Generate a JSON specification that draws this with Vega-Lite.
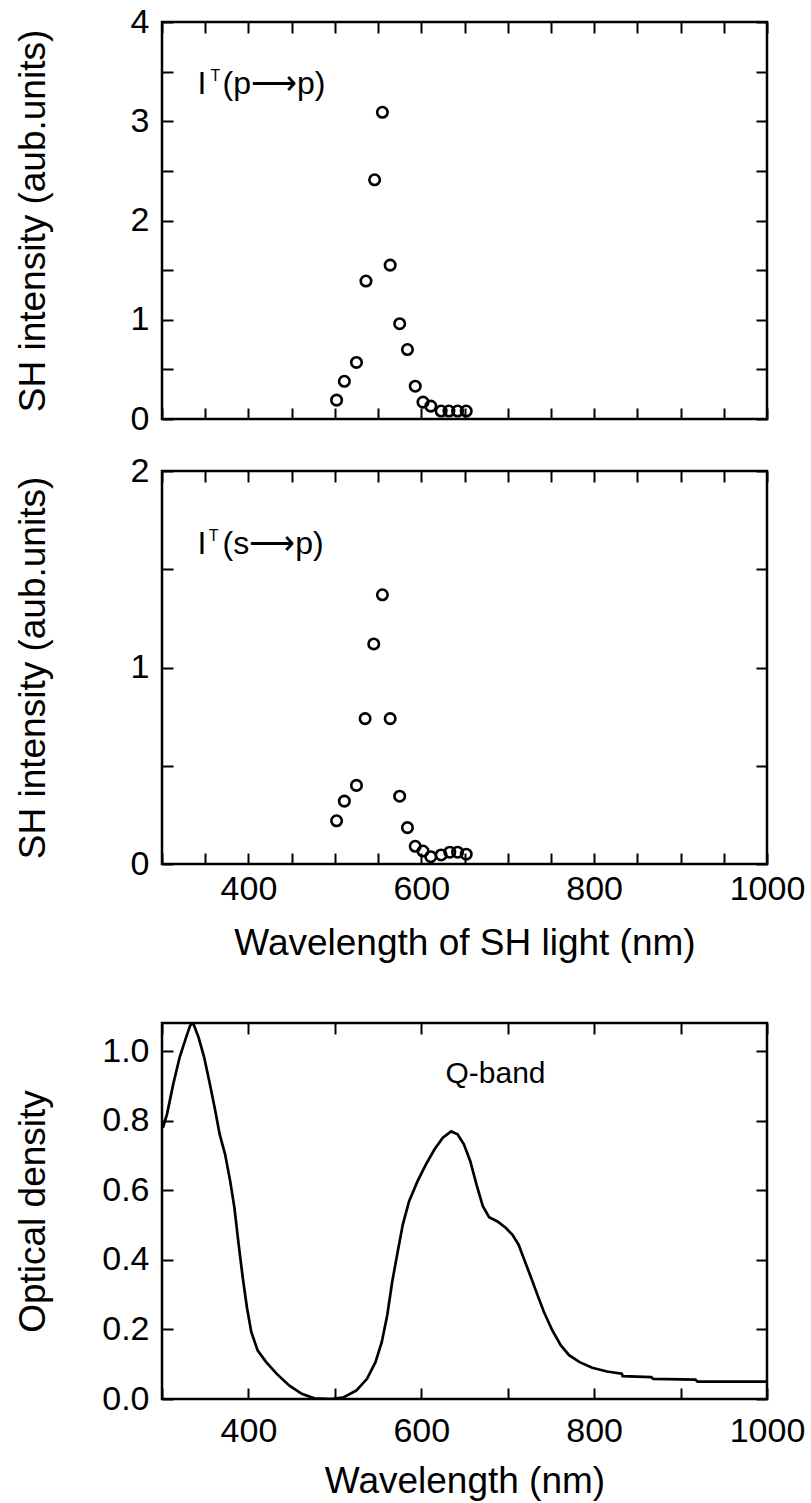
{
  "$schema": "https://vega.github.io/schema/vega-lite/v6.json",
  "padding": {"left": 12, "top": 3, "right": 0, "bottom": 0},
  "background": "white",
  "spacing": 14,
  "config": {
    "view": {"stroke": "black", "strokeWidth": 2.5},
    "font": "Liberation Sans",
    "axis": {
      "grid": false, "domain": false, "tickColor": "black", "tickWidth": 2, "tickSize": -11,
      "labelFont": "Liberation Sans", "labelFontSize": 34, "labelColor": "black", "labelPadding": 24,
      "labelFlush": false, "labelOverlap": false,
      "titleFont": "Liberation Sans", "titleFontSize": 37, "titleFontWeight": "normal", "titleColor": "black"
    }
  },
  "vconcat": [
    {
      "width": 605, "height": 397,
      "data": {"values": [
        {"wavelength": 502, "intensity": 0.19}, {"wavelength": 511, "intensity": 0.38},
        {"wavelength": 525, "intensity": 0.57}, {"wavelength": 536, "intensity": 1.39},
        {"wavelength": 546, "intensity": 2.41}, {"wavelength": 555, "intensity": 3.09},
        {"wavelength": 564, "intensity": 1.55}, {"wavelength": 575, "intensity": 0.96},
        {"wavelength": 584, "intensity": 0.70}, {"wavelength": 593, "intensity": 0.33},
        {"wavelength": 602, "intensity": 0.17}, {"wavelength": 611, "intensity": 0.13},
        {"wavelength": 623, "intensity": 0.08}, {"wavelength": 632, "intensity": 0.08},
        {"wavelength": 642, "intensity": 0.08}, {"wavelength": 652, "intensity": 0.08}
      ]},
      "layer": [
        {
          "mark": {"type": "point", "shape": "circle", "filled": false, "stroke": "black", "strokeWidth": 2.6, "size": 110, "opacity": 1},
          "encoding": {
            "x": {"field": "wavelength", "type": "quantitative", "scale": {"domain": [300, 1000], "nice": false, "zero": false},
                  "axis": {"orient": "bottom", "values": [300,350,400,450,500,550,600,650,700,750,800,850,900,950,1000], "labels": false, "title": null}},
            "y": {"field": "intensity", "type": "quantitative", "scale": {"domain": [0, 4], "nice": false},
                  "axis": {"orient": "left", "values": [0,0.5,1,1.5,2,2.5,3,3.5,4], "labelExpr": "datum.value % 1 == 0 ? format(datum.value, 'd') : ''",
                           "title": "SH intensity (aub.units)", "titleX": -118, "titleBaseline": "alphabetic"}}
          }
        },
        {
          "mark": {"type": "point", "opacity": 0},
          "encoding": {
            "x": {"field": "wavelength", "type": "quantitative",
                  "axis": {"orient": "top", "values": [300,350,400,450,500,550,600,650,700,750,800,850,900,950,1000], "labels": false, "title": null}},
            "y": {"field": "intensity", "type": "quantitative",
                  "axis": {"orient": "right", "values": [0,0.5,1,1.5,2,2.5,3,3.5,4], "labels": false, "title": null}}
          }
        },
        {
          "data": {"values": [{}]},
          "mark": {"type": "text", "text": "I", "align": "left", "baseline": "alphabetic", "fontSize": 32, "font": "Liberation Sans", "color": "black"},
          "encoding": {"x": {"datum": 341, "type": "quantitative", "axis": null}, "y": {"datum": 3.27, "type": "quantitative", "axis": null}}
        },
        {
          "data": {"values": [{}]},
          "mark": {"type": "text", "text": "T", "align": "left", "baseline": "alphabetic", "fontSize": 16, "font": "Liberation Sans", "color": "black"},
          "encoding": {"x": {"datum": 356, "type": "quantitative", "axis": null}, "y": {"datum": 3.41, "type": "quantitative", "axis": null}}
        },
        {
          "data": {"values": [{}]},
          "mark": {"type": "text", "text": "(p⟶p)", "align": "left", "baseline": "alphabetic", "fontSize": 32, "font": "Liberation Sans", "color": "black"},
          "encoding": {"x": {"datum": 370, "type": "quantitative", "axis": null}, "y": {"datum": 3.27, "type": "quantitative", "axis": null}}
        }
      ],
      "resolve": {"axis": {"x": "independent", "y": "independent"}}
    },
    {
      "width": 605, "height": 393,
      "data": {"values": [
        {"wavelength": 502, "intensity": 0.22}, {"wavelength": 511, "intensity": 0.32},
        {"wavelength": 525, "intensity": 0.40}, {"wavelength": 535, "intensity": 0.74},
        {"wavelength": 545, "intensity": 1.12}, {"wavelength": 555, "intensity": 1.37},
        {"wavelength": 564, "intensity": 0.74}, {"wavelength": 575, "intensity": 0.345},
        {"wavelength": 584, "intensity": 0.185}, {"wavelength": 593, "intensity": 0.09},
        {"wavelength": 602, "intensity": 0.066}, {"wavelength": 611, "intensity": 0.037},
        {"wavelength": 623, "intensity": 0.046}, {"wavelength": 633, "intensity": 0.06},
        {"wavelength": 642, "intensity": 0.06}, {"wavelength": 652, "intensity": 0.05}
      ]},
      "layer": [
        {
          "mark": {"type": "point", "shape": "circle", "filled": false, "stroke": "black", "strokeWidth": 2.6, "size": 110, "opacity": 1},
          "encoding": {
            "x": {"field": "wavelength", "type": "quantitative", "scale": {"domain": [300, 1000], "nice": false, "zero": false},
                  "axis": {"orient": "bottom", "values": [300,350,400,450,500,550,600,650,700,750,800,850,900,950,1000], "labelPadding": 19,
                           "labelExpr": "datum.value % 200 == 0 && datum.value >= 400 ? format(datum.value, 'd') : ''", "title": null}},
            "y": {"field": "intensity", "type": "quantitative", "scale": {"domain": [0, 2], "nice": false},
                  "axis": {"orient": "left", "values": [0,0.5,1,1.5,2], "labelExpr": "datum.value % 1 == 0 ? format(datum.value, 'd') : ''",
                           "title": "SH intensity (aub.units)", "titleX": -118, "titleBaseline": "alphabetic"}}
          }
        },
        {
          "mark": {"type": "point", "opacity": 0},
          "encoding": {
            "x": {"field": "wavelength", "type": "quantitative",
                  "axis": {"orient": "top", "values": [300,350,400,450,500,550,600,650,700,750,800,850,900,950,1000], "labels": false, "title": null}},
            "y": {"field": "intensity", "type": "quantitative",
                  "axis": {"orient": "right", "values": [0,0.5,1,1.5,2], "labels": false, "title": null}}
          }
        },
        {
          "data": {"values": [{}]},
          "mark": {"type": "text", "text": "I", "align": "left", "baseline": "alphabetic", "fontSize": 32, "font": "Liberation Sans", "color": "black"},
          "encoding": {"x": {"datum": 341, "type": "quantitative", "axis": null}, "y": {"datum": 1.578, "type": "quantitative", "axis": null}}
        },
        {
          "data": {"values": [{}]},
          "mark": {"type": "text", "text": "T", "align": "left", "baseline": "alphabetic", "fontSize": 16, "font": "Liberation Sans", "color": "black"},
          "encoding": {"x": {"datum": 354, "type": "quantitative", "axis": null}, "y": {"datum": 1.645, "type": "quantitative", "axis": null}}
        },
        {
          "data": {"values": [{}]},
          "mark": {"type": "text", "text": "(s⟶p)", "align": "left", "baseline": "alphabetic", "fontSize": 32, "font": "Liberation Sans", "color": "black"},
          "encoding": {"x": {"datum": 370, "type": "quantitative", "axis": null}, "y": {"datum": 1.578, "type": "quantitative", "axis": null}}
        }
      ],
      "resolve": {"axis": {"x": "independent", "y": "independent"}}
    },
    {
      "width": 605, "height": 376,
      "data": {"values": [
        {"wavelength": 301, "od": 0.78}, {"wavelength": 305.8, "od": 0.82}, {"wavelength": 313, "od": 0.906},
        {"wavelength": 320.5, "od": 0.984}, {"wavelength": 327.8, "od": 1.04}, {"wavelength": 332.6, "od": 1.075},
        {"wavelength": 336, "od": 1.082}, {"wavelength": 342.4, "od": 1.04}, {"wavelength": 348.7, "od": 0.984},
        {"wavelength": 354.6, "od": 0.916}, {"wavelength": 360.9, "od": 0.839}, {"wavelength": 366.7, "od": 0.762},
        {"wavelength": 373, "od": 0.704}, {"wavelength": 378.9, "od": 0.627}, {"wavelength": 383.8, "od": 0.55},
        {"wavelength": 388.7, "od": 0.444}, {"wavelength": 393.5, "od": 0.348}, {"wavelength": 398.4, "od": 0.261},
        {"wavelength": 403.3, "od": 0.193}, {"wavelength": 410.6, "od": 0.14}, {"wavelength": 420.3, "od": 0.107},
        {"wavelength": 432.5, "od": 0.073}, {"wavelength": 447.1, "od": 0.039}, {"wavelength": 461.7, "od": 0.015},
        {"wavelength": 476.3, "od": 0.002}, {"wavelength": 495.8, "od": 0.0}, {"wavelength": 510.4, "od": 0.005},
        {"wavelength": 525, "od": 0.025}, {"wavelength": 537.2, "od": 0.058}, {"wavelength": 547, "od": 0.106},
        {"wavelength": 554.3, "od": 0.164}, {"wavelength": 560.6, "od": 0.241}, {"wavelength": 566.4, "od": 0.338},
        {"wavelength": 572.8, "od": 0.425}, {"wavelength": 578.6, "od": 0.502}, {"wavelength": 585.9, "od": 0.569},
        {"wavelength": 595.7, "od": 0.627}, {"wavelength": 605.4, "od": 0.675}, {"wavelength": 615.2, "od": 0.718},
        {"wavelength": 624.9, "od": 0.752}, {"wavelength": 634.6, "od": 0.77}, {"wavelength": 642, "od": 0.762},
        {"wavelength": 649.3, "od": 0.733}, {"wavelength": 656.6, "od": 0.685}, {"wavelength": 663.9, "od": 0.617},
        {"wavelength": 671.2, "od": 0.555}, {"wavelength": 678.5, "od": 0.523}, {"wavelength": 688.2, "od": 0.511},
        {"wavelength": 698, "od": 0.492}, {"wavelength": 705.3, "od": 0.473}, {"wavelength": 712.6, "od": 0.444},
        {"wavelength": 719.9, "od": 0.396}, {"wavelength": 727.2, "od": 0.348}, {"wavelength": 734.5, "od": 0.299},
        {"wavelength": 741.8, "od": 0.251}, {"wavelength": 751.5, "od": 0.198}, {"wavelength": 761.3, "od": 0.155},
        {"wavelength": 771, "od": 0.126}, {"wavelength": 783.2, "od": 0.106}, {"wavelength": 797.8, "od": 0.09},
        {"wavelength": 814.9, "od": 0.079}, {"wavelength": 832, "od": 0.073}, {"wavelength": 833, "od": 0.066},
        {"wavelength": 866, "od": 0.063}, {"wavelength": 868.4, "od": 0.058}, {"wavelength": 917.2, "od": 0.056},
        {"wavelength": 919.6, "od": 0.05}, {"wavelength": 1000, "od": 0.05}
      ]},
      "layer": [
        {
          "mark": {"type": "line", "stroke": "black", "strokeWidth": 2.7, "clip": true},
          "encoding": {
            "x": {"field": "wavelength", "type": "quantitative", "scale": {"domain": [300, 1000], "nice": false, "zero": false},
                  "axis": {"orient": "bottom", "values": [300,400,500,600,700,800,900,1000], "labelPadding": 26,
                           "labelExpr": "datum.value % 200 == 0 && datum.value >= 400 ? format(datum.value, 'd') : ''",
                           "title": "Wavelength (nm)", "titlePadding": 15}},
            "y": {"field": "od", "type": "quantitative", "scale": {"domain": [0, 1.082], "nice": false},
                  "axis": {"orient": "left", "values": [0,0.2,0.4,0.6,0.8,1.0], "format": ".1f",
                           "title": "Optical density", "titleX": -118, "titleBaseline": "alphabetic"}}
          }
        },
        {
          "mark": {"type": "line", "opacity": 0},
          "encoding": {
            "x": {"field": "wavelength", "type": "quantitative",
                  "axis": {"orient": "top", "values": [300,400,500,600,700,800,900,1000], "labels": false,
                           "title": "Wavelength of SH light (nm)", "titlePadding": 60}},
            "y": {"field": "od", "type": "quantitative",
                  "axis": {"orient": "right", "values": [0,0.2,0.4,0.6,0.8,1.0], "labels": false, "title": null}}
          }
        },
        {
          "data": {"values": [{}]},
          "mark": {"type": "text", "text": "Q-band", "align": "left", "baseline": "alphabetic", "fontSize": 30, "font": "Liberation Sans", "color": "black"},
          "encoding": {"x": {"datum": 628, "type": "quantitative", "axis": null}, "y": {"datum": 0.908, "type": "quantitative", "axis": null}}
        }
      ],
      "resolve": {"axis": {"x": "independent", "y": "independent"}}
    }
  ]
}
